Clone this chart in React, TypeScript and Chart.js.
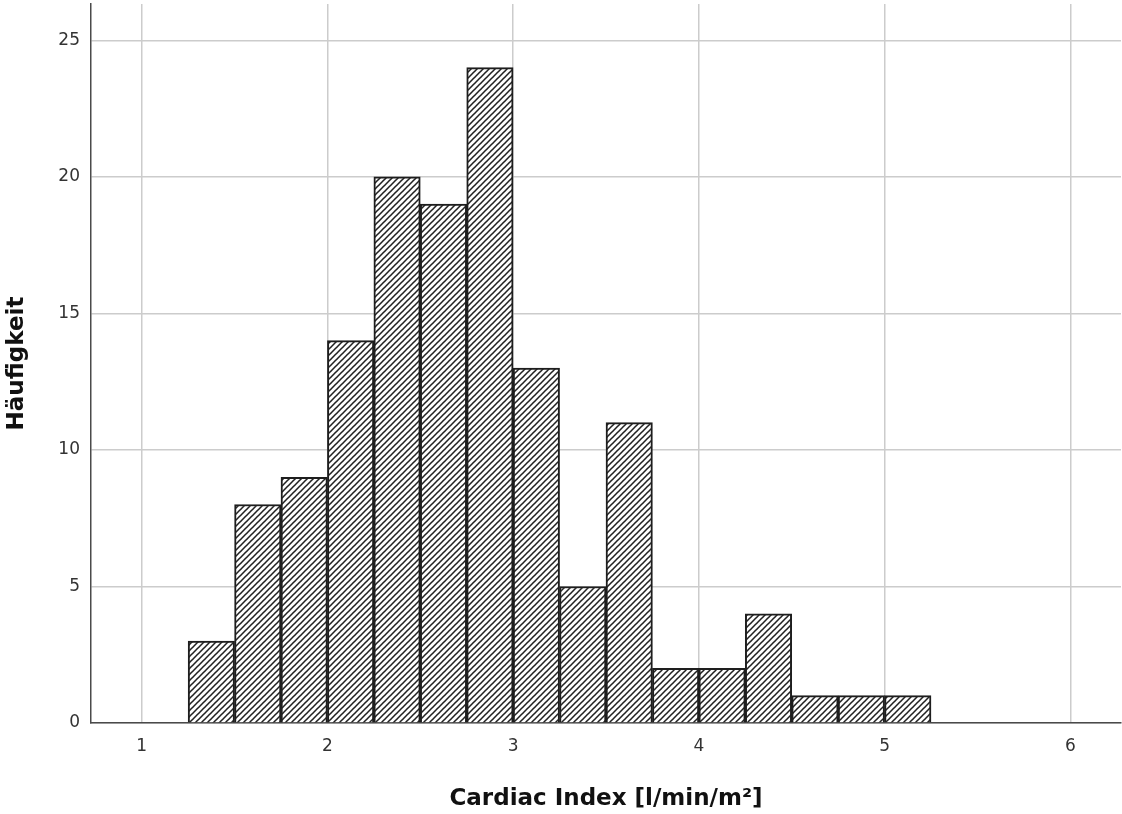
import React, { useEffect, useRef } from "react";
import { Chart, registerables } from "chart.js";

Chart.register(...registerables);

// Histogram bins (lower edge, width 0.25 l/min/m²) and their frequencies
const binLower = [1.25, 1.5, 1.75, 2.0, 2.25, 2.5, 2.75, 3.0, 3.25, 3.5, 3.75, 4.0, 4.25, 4.5, 4.75, 5.0];
const counts = [3, 8, 9, 14, 20, 19, 24, 13, 5, 11, 2, 2, 4, 1, 1, 1];
const binWidth = 0.25;

const xTicks = [1, 2, 3, 4, 5, 6];
const yTicks = [0, 5, 10, 15, 20, 25];

const xTitle = "Cardiac Index [l/min/m²]";
const yTitle = "Häufigkeit";

const FONT = "'DejaVu Sans', Verdana, sans-serif";

// Diagonal "/" hatch used as the bar fill
function makeHatch(): CanvasPattern | string {
  const p = 6;
  const c = document.createElement("canvas");
  c.width = p;
  c.height = p;
  const g = c.getContext("2d");
  if (!g) return "#888";
  g.fillStyle = "#ffffff";
  g.fillRect(0, 0, p, p);
  g.strokeStyle = "#222222";
  g.lineWidth = 1.55;
  for (const k of [-1, 0, 1]) {
    g.beginPath();
    g.moveTo(k * p - 1, p + 1);
    g.lineTo(k * p + p + 1, -1);
    g.stroke();
  }
  const pat = g.createPattern(c, "repeat");
  return pat || "#888";
}

export default function App() {
  const ref = useRef<HTMLCanvasElement | null>(null);

  useEffect(() => {
    const canvas = ref.current;
    if (!canvas) return;
    const hatch = makeHatch();
    const points = binLower.map((lo, i) => ({ x: lo + binWidth / 2, y: counts[i] }));

    const chart = new Chart(canvas, {
      type: "bar",
      data: {
        datasets: [
          {
            data: points as any,
            backgroundColor: hatch as any,
            borderColor: "#1e1e1e",
            borderWidth: 2,
            barPercentage: 1,
            categoryPercentage: 1,
          },
        ],
      },
      options: {
        animation: false,
        responsive: false,
        devicePixelRatio: 1,
        layout: { padding: { top: 4, right: 1, left: 0, bottom: 0 } },
        plugins: {
          legend: { display: false },
          tooltip: { enabled: false },
        },
        scales: {
          x: {
            type: "linear",
            min: 0.727,
            max: 6.273,
            offset: false,
            grid: {
              offset: false,
              color: "#cccccc",
              lineWidth: 1.5,
              drawTicks: false,
            },
            border: { display: true, color: "#4a4a4a", width: 1.5 },
            ticks: {
              padding: 13,
              color: "#333333",
              font: { family: FONT, size: 17, lineHeight: 1.2 },
              maxRotation: 0,
            },
            afterBuildTicks: (s: any) => {
              s.ticks = xTicks.map((v) => ({ value: v }));
            },
            afterFit: (s: any) => {
              s.height = 91;
              s.paddingLeft = 0;
              s.paddingRight = 0;
            },
            title: {
              display: true,
              text: xTitle,
              color: "#111111",
              font: { family: FONT, size: 23, weight: "bold", lineHeight: 1.2 },
              padding: { top: 0, bottom: 1 },
            },
          },
          y: {
            type: "linear",
            min: 0,
            max: 26.33,
            grid: {
              color: "#cccccc",
              lineWidth: 1.5,
              drawTicks: false,
            },
            border: { display: true, color: "#4a4a4a", width: 1.5 },
            ticks: {
              padding: 11,
              color: "#333333",
              font: { family: FONT, size: 17, lineHeight: 1.2 },
            },
            afterBuildTicks: (s: any) => {
              s.ticks = yTicks.map((v) => ({ value: v }));
            },
            afterFit: (s: any) => {
              s.width = 91;
              s.paddingTop = 0;
              s.paddingBottom = 0;
            },
            title: {
              display: true,
              text: yTitle,
              color: "#111111",
              font: { family: FONT, size: 23, weight: "bold", lineHeight: 1.2 },
              padding: { top: 3, bottom: 0 },
            },
          },
        },
      } as any,
    });

    return () => chart.destroy();
  }, []);

  return (
    <div style={{ position: "absolute", left: 0, top: 0, width: 1122, height: 814, background: "#ffffff" }}>
      <canvas ref={ref} width={1122} height={814} style={{ display: "block", width: 1122, height: 814 }} />
    </div>
  );
}
